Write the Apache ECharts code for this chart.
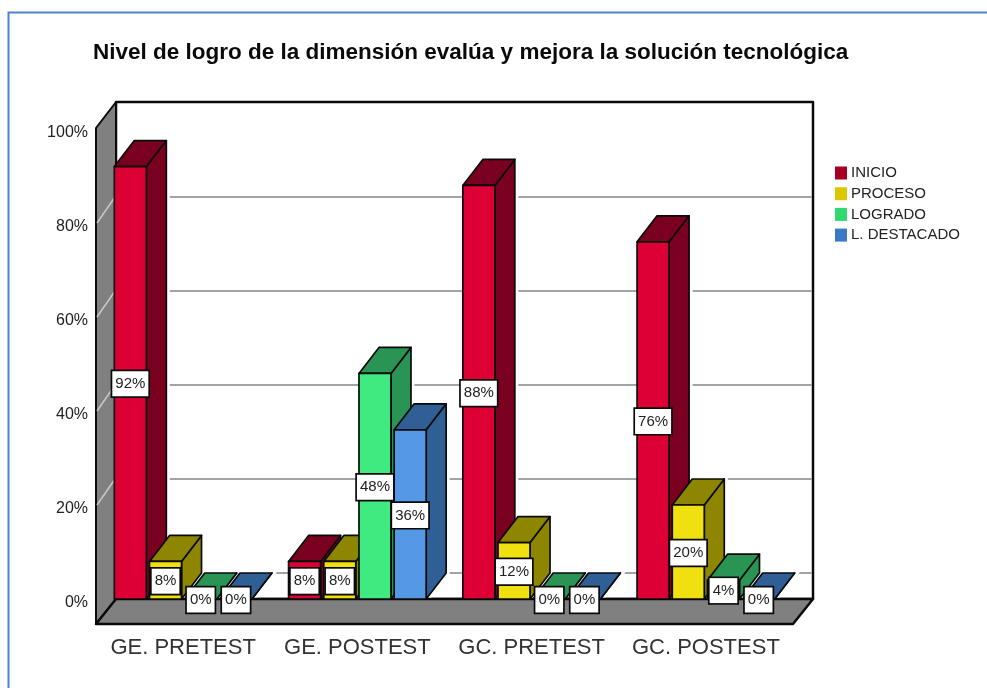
<!DOCTYPE html>
<html>
<head>
<meta charset="utf-8">
<title>Nivel de logro</title>
<script src="https://cdn.jsdelivr.net/npm/echarts@6/dist/echarts.min.js"></script>
<style>
  html, body { margin: 0; padding: 0; background: #fff; }
  #chart { width: 987px; height: 688px; }
</style>
</head>
<body>
<div id="chart"></div>
<script>
var categories = ['GE. PRETEST', 'GE. POSTEST', 'GC. PRETEST', 'GC. POSTEST'];
var inicio = [92, 8, 88, 76];
var proceso = [8, 8, 12, 20];
var logrado = [0, 48, 0, 4];
var destacado = [0, 36, 0, 0];
var gridTicks = [0, 20, 40, 60, 80];

var FONT = '"Liberation Sans", Arial, sans-serif';
// 3d look: offset of the depth edge, bar size inside a group
var DX = 20, DY = -26, BAR_W = 32, BAR_STEP = 35.2, FLOOR = 25;

var chart = echarts.init(document.getElementById('chart'));

function poly(points, fill, z2, stroke, width) {
  return {
    type: 'polygon', z2: z2, shape: { points: points },
    style: { fill: fill, stroke: stroke || '#0a0a0a', lineWidth: width === undefined ? 1.7 : width, lineJoin: 'round' }
  };
}

function line(x1, y1, x2, y2, color, width, z2) {
  return {
    type: 'line', z2: z2, shape: { x1: x1, y1: y1, x2: x2, y2: y2 },
    style: { stroke: color, lineWidth: width }
  };
}

// walls, floor and the gridlines on them
function renderWalls(params, api) {
  var c = params.coordSys;
  var l = c.x, r = c.x + c.width, t = c.y - 1, b = c.y + c.height;
  var kids = [];
  kids.push(poly([[l + DX, t + DY], [r + DX, t + DY], [r + DX, b], [l + DX, b]], '#fff', -5, '#0a0a0a', 2.5));
  kids.push(poly([[l, t], [l + DX, t + DY], [l + DX, b], [l, b + FLOOR]], '#808080', -4, '#0a0a0a', 2));
  gridTicks.forEach(function (v) {
    var y = api.coord([0, v])[1];
    kids.push(line(l + DX, y + DY, r + DX - 1, y + DY, '#a3a3a3', 2, -4));
    if (v > 0) kids.push(line(l + 1, y, l + DX - 1, y + DY, '#c8c8c8', 1.5, -4));
  });
  kids.push(poly([[l, b + FLOOR], [l + DX, b], [r + DX, b], [r, b + FLOOR]], '#808080', -1, '#0a0a0a', 2.5));
  return { type: 'group', children: kids };
}

function barRenderer(idx, front, side) {
  return function (params, api) {
    var v = api.value(1);
    var p = api.coord([api.value(0), v]);
    var y0 = api.coord([api.value(0), 0])[1];
    var x = p[0] - (3 * BAR_STEP + BAR_W) / 2 + idx * BAR_STEP;
    var y = p[1], xr = x + BAR_W;
    var kids = [
      // white gap that the gridlines leave around a bar
      {
        type: 'polyline', z2: -2,
        shape: { points: [[x + DX, y + DY], [xr + DX, y + DY], [xr + DX, y0 + DY], [xr, y0]] },
        style: { fill: null, stroke: '#fff', lineWidth: 7 }
      },
      poly([[xr, y], [xr + DX, y + DY], [xr + DX, y0 + DY], [xr, y0]], side, 0),
      poly([[x, y], [x + DX, y + DY], [xr + DX, y + DY], [xr, y]], side, 0)
    ];
    if (v > 0) kids.push(poly([[x, y], [xr, y], [xr, y0], [x, y0]], front, 0));
    kids.push({
      type: 'text', z2: 10, x: x + BAR_W / 2, y: (y + y0) / 2 + 1,
      style: {
        text: v + '%', font: '15px ' + FONT, fill: '#222', align: 'center', verticalAlign: 'middle',
        backgroundColor: '#fff', borderColor: '#0a0a0a', borderWidth: 1.7, padding: [5, 3, 5, 3]
      }
    });
    return { type: 'group', children: kids };
  };
}

function barSeries(name, values, idx, front, side, legendColor) {
  return {
    name: name, type: 'custom', clip: false,
    renderItem: barRenderer(idx, front, side),
    encode: { x: 0, y: 1 },
    itemStyle: { color: legendColor },
    data: values.map(function (v, i) { return [i, v]; })
  };
}

chart.setOption({
  backgroundColor: '#fff',
  animation: false,
  title: {
    text: 'Nivel de logro de la dimensión evalúa y mejora la solución tecnológica',
    left: 88, top: 36,
    textStyle: { fontFamily: FONT, fontSize: 22.5, fontWeight: 'bold', color: '#0a0a0a' }
  },
  legend: {
    orient: 'vertical', left: 835, top: 165.5, icon: 'rect',
    itemWidth: 12, itemHeight: 13, itemGap: 5.7, padding: 0,
    data: ['INICIO', 'PROCESO', 'LOGRADO', 'L. DESTACADO'],
    textStyle: { fontFamily: FONT, fontSize: 15, color: '#222', padding: [0, 0, 0, -1] }
  },
  grid: { left: 96, top: 129, width: 697, height: 470 },
  xAxis: {
    type: 'category', data: categories,
    axisLine: { show: false }, axisTick: { show: false },
    axisLabel: { interval: 0, margin: 38, fontFamily: FONT, fontSize: 22, color: '#333' }
  },
  yAxis: {
    type: 'value', min: 0, max: 100, interval: 20,
    axisLine: { show: false }, axisTick: { show: false }, splitLine: { show: false },
    axisLabel: { margin: 8, formatter: '{value}%', fontFamily: FONT, fontSize: 16, color: '#222', verticalAlign: 'top', lineHeight: 7 }
  },
  graphic: [{
    type: 'polyline', silent: true,
    shape: { points: [[8.5, 688], [8.5, 12.5], [987, 12.5]] },
    style: { fill: null, stroke: '#4f82d2', lineWidth: 2 }
  }],
  series: [
    { type: 'custom', clip: false, silent: true, renderItem: renderWalls, encode: { x: 0, y: 1 }, data: [[0, 0]] },
    barSeries('INICIO', inicio, 0, '#dc0035', '#7a0020', '#a80022'),
    barSeries('PROCESO', proceso, 1, '#f0e010', '#8e8600', '#dcc800'),
    barSeries('LOGRADO', logrado, 2, '#3fea80', '#2a9455', '#30d870'),
    barSeries('L. DESTACADO', destacado, 3, '#5599e6', '#2f5f94', '#3a78c8')
  ]
});
</script>
</body>
</html>
